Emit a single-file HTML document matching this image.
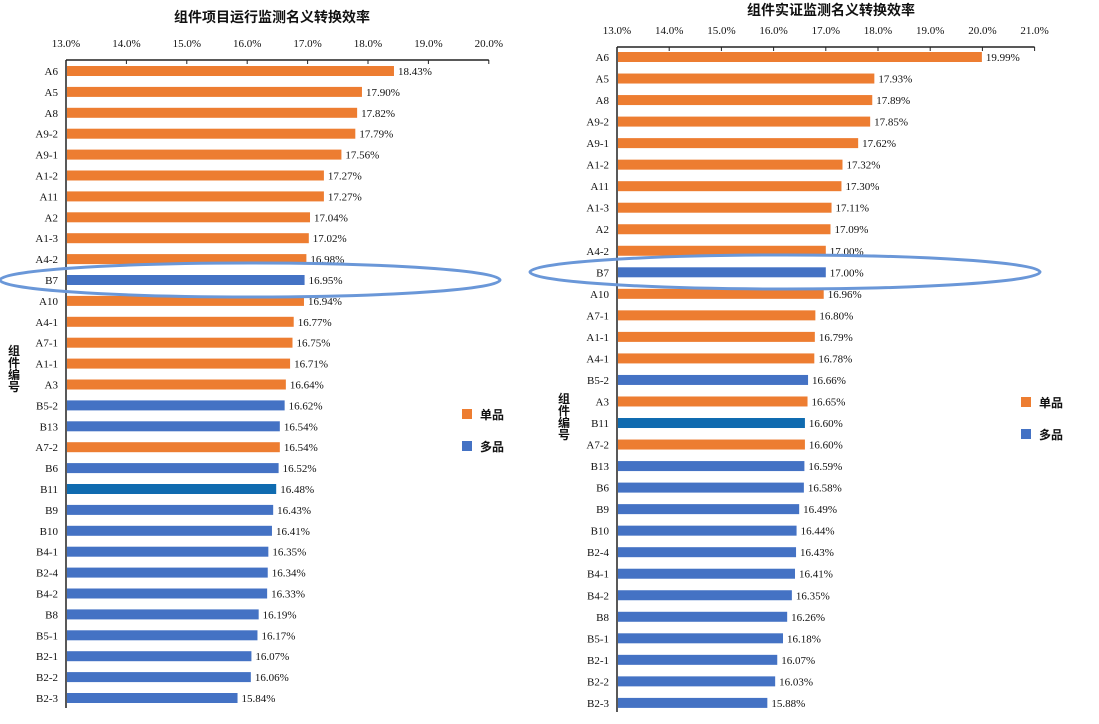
<!DOCTYPE html>
<html><head><meta charset="utf-8"><style>
body{margin:0;background:#fff;width:1099px;height:719px;overflow:hidden}
svg text{font-family:"Liberation Serif","Noto Serif CJK SC",serif;fill:#111}
</style></head><body>
<svg id="s" width="1099" height="719" xmlns="http://www.w3.org/2000/svg"></svg>
<script>
const L=[["A6",18.43,"o"],["A5",17.90,"o"],["A8",17.82,"o"],["A9-2",17.79,"o"],["A9-1",17.56,"o"],["A1-2",17.27,"o"],["A11",17.27,"o"],["A2",17.04,"o"],["A1-3",17.02,"o"],["A4-2",16.98,"o"],["B7",16.95,"b"],["A10",16.94,"o"],["A4-1",16.77,"o"],["A7-1",16.75,"o"],["A1-1",16.71,"o"],["A3",16.64,"o"],["B5-2",16.62,"b"],["B13",16.54,"b"],["A7-2",16.54,"o"],["B6",16.52,"b"],["B11",16.48,"d"],["B9",16.43,"b"],["B10",16.41,"b"],["B4-1",16.35,"b"],["B2-4",16.34,"b"],["B4-2",16.33,"b"],["B8",16.19,"b"],["B5-1",16.17,"b"],["B2-1",16.07,"b"],["B2-2",16.06,"b"],["B2-3",15.84,"b"]];
const R=[["A6",19.99,"o"],["A5",17.93,"o"],["A8",17.89,"o"],["A9-2",17.85,"o"],["A9-1",17.62,"o"],["A1-2",17.32,"o"],["A11",17.30,"o"],["A1-3",17.11,"o"],["A2",17.09,"o"],["A4-2",17.00,"o"],["B7",17.00,"b"],["A10",16.96,"o"],["A7-1",16.80,"o"],["A1-1",16.79,"o"],["A4-1",16.78,"o"],["B5-2",16.66,"b"],["A3",16.65,"o"],["B11",16.60,"d"],["A7-2",16.60,"o"],["B13",16.59,"b"],["B6",16.58,"b"],["B9",16.49,"b"],["B10",16.44,"b"],["B2-4",16.43,"b"],["B4-1",16.41,"b"],["B4-2",16.35,"b"],["B8",16.26,"b"],["B5-1",16.18,"b"],["B2-1",16.07,"b"],["B2-2",16.03,"b"],["B2-3",15.88,"b"]];
const C={o:"#ED7D31",b:"#4472C4",d:"#0F6BB0"};
let h="";
function chart(D,x0,ppp,top,y0,dy,nt,title,tx,ty,axBottom){
 h+=`<text x="${tx}" y="${ty}" font-size="14" font-weight="bold" text-anchor="middle" style="font-family:'Noto Sans CJK SC',sans-serif">${title}</text>`;
 for(let i=0;i<nt;i++){const x=x0+i*ppp;h+=`<text x="${x}" y="${top-13}" font-size="11" text-anchor="middle">${(13+i).toFixed(1)}%</text><line x1="${x}" y1="${top}" x2="${x}" y2="${top+4}" stroke="#222"/>`;}
 h+=`<line x1="${x0}" y1="${top}" x2="${x0+(nt-1)*ppp}" y2="${top}" stroke="#222" stroke-width="1.5"/><line x1="${x0}" y1="${top}" x2="${x0}" y2="${axBottom}" stroke="#222" stroke-width="1.5"/>`;
 D.forEach((d,i)=>{const y=y0+i*dy;const w=(d[1]-13)*ppp;
 h+=`<rect x="${x0+1}" y="${y-5}" width="${w-1}" height="10" fill="${C[d[2]]}"/>`;
 h+=`<text x="${x0+w+4}" y="${y+4}" font-size="11">${d[1].toFixed(2)}%</text>`;
 h+=`<text x="${x0-8}" y="${y+4}" font-size="11" text-anchor="end">${d[0]}</text>`;});
}
chart(L,66,60.4,60,71,20.9,8,"组件项目运行监测名义转换效率",272,22,708);
chart(R,617,52.2,47,57,21.53,9,"组件实证监测名义转换效率",831,15,712);
h+=`<ellipse cx="250" cy="280" rx="250" ry="17" fill="none" stroke="#6A97D8" stroke-width="3"/>`;
h+=`<ellipse cx="785" cy="272" rx="255" ry="17" fill="none" stroke="#6A97D8" stroke-width="3"/>`;
function leg(x,y1,y2){h+=`<rect x="${x}" y="${y1-5}" width="10" height="10" fill="#ED7D31"/><text x="${x+18}" y="${y1+5}" font-size="12" font-weight="bold" style="font-family:'Noto Sans CJK SC',sans-serif">单品</text><rect x="${x}" y="${y2-5}" width="10" height="10" fill="#4472C4"/><text x="${x+18}" y="${y2+5}" font-size="12" font-weight="bold" style="font-family:'Noto Sans CJK SC',sans-serif">多品</text>`;}
leg(462,414,446);leg(1021,402,434);
function yt(x,y){["组","件","编","号"].forEach((c,i)=>{h+=`<text x="${x}" y="${y+i*12}" font-size="12" font-weight="bold" text-anchor="middle" style="font-family:'Noto Sans CJK SC',sans-serif">${c}</text>`;});}
yt(14,355);yt(564,403);
document.getElementById("s").innerHTML=h;
</script>
</body></html>
